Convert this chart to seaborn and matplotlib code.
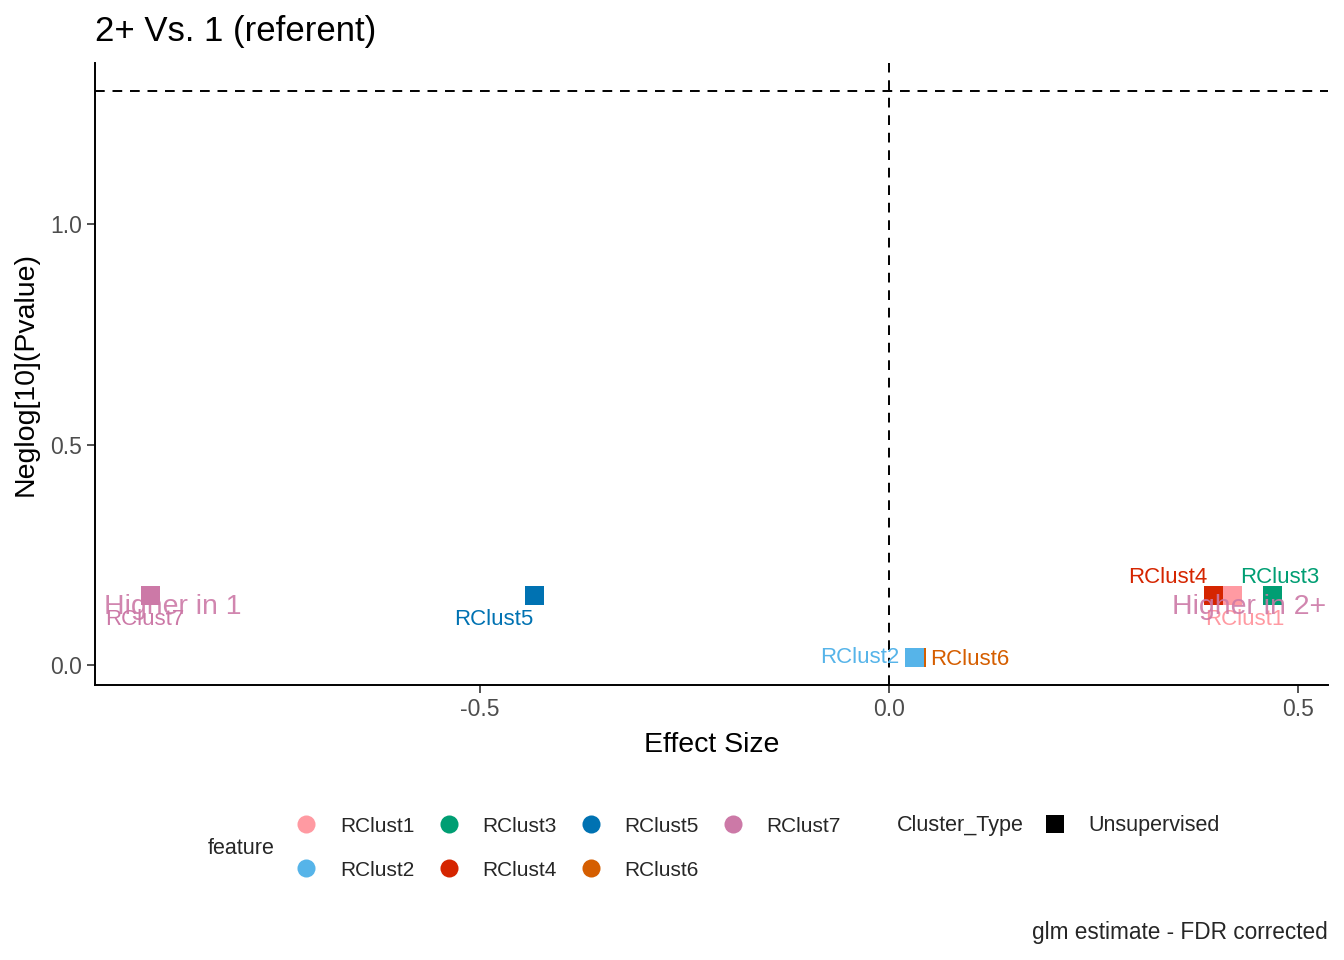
import matplotlib
matplotlib.use("Agg")
import matplotlib.pyplot as plt
from matplotlib.lines import Line2D
import seaborn as sns
import pandas as pd

# ---- data ----
features = ["RClust7", "RClust5", "RClust6", "RClust2", "RClust4", "RClust1", "RClust3"]
effect_size = [-0.903, -0.434, 0.034, 0.031, 0.397, 0.4205, 0.469]
neglog_p = [0.158, 0.158, 0.018, 0.018, 0.158, 0.158, 0.158]
legend_order = ["RClust1", "RClust2", "RClust3", "RClust4", "RClust5", "RClust6", "RClust7"]
colors = {
    "RClust1": "#FF9AA2",
    "RClust2": "#56B4E9",
    "RClust3": "#009E73",
    "RClust4": "#D52500",
    "RClust5": "#0072B2",
    "RClust6": "#D55E00",
    "RClust7": "#CC79A7",
}
# label offsets (points) for repelled labels
label_offsets = {
    "RClust7": (-4, -17),
    "RClust5": (-29, -17),
    "RClust2": (-39, 0),
    "RClust6": (38, -2),
    "RClust4": (-33, 13),
    "RClust1": (9, -17),
    "RClust3": (5, 13),
}
sig_line = 1.30103
annot_text = ["Higher in 1", "Higher in 2+"]
annot_x = [-0.876, 0.441]
annot_y = [0.131, 0.131]
xticks = [-0.5, 0.0, 0.5]
yticks = [0.0, 0.5, 1.0]

df = pd.DataFrame({"feature": features, "effect": effect_size, "neglog": neglog_p,
                   "Cluster_Type": ["Unsupervised"] * len(features)})

sns.set_style("white")
plt.rcParams["font.family"] = ["Liberation Sans", "DejaVu Sans"]

fig = plt.figure(figsize=(13.44, 9.6), dpi=100)
ax = fig.add_axes([95 / 1344, 1 - 685 / 960, (1328 - 95) / 1344, (685 - 63) / 960])

ax.axhline(sig_line, color="black", lw=1.4, ls=(0, (5, 4)), zorder=1)
ax.axvline(0, color="black", lw=1.4, ls=(0, (5, 4)), zorder=1)

sns.scatterplot(data=df, x="effect", y="neglog", hue="feature", palette=colors,
                marker="s", s=190, linewidth=0, legend=False, ax=ax, zorder=3)

for f, xv, yv in zip(features, effect_size, neglog_p):
    dx, dy = label_offsets[f]
    ax.annotate(f, (xv, yv), xytext=(dx, dy), textcoords="offset points",
                ha="center", va="center", fontsize=16, color=colors[f], zorder=4)

for t, xv, yv in zip(annot_text, annot_x, annot_y):
    ax.text(xv, yv, t, ha="center", va="center", fontsize=20.5,
            color=colors["RClust7"], alpha=0.9, zorder=5)

ax.set_xlim(-0.971, 0.537)
ax.set_ylim(-0.045, 1.365)
ax.set_xticks(xticks)
ax.set_yticks(yticks)
ax.set_xticklabels([f"{v:.1f}" for v in xticks])
ax.set_yticklabels([f"{v:.1f}" for v in yticks])
ax.tick_params(axis="both", which="major", labelsize=16.5, labelcolor="#4D4D4D",
               color="#333333", length=6, width=1.2, direction="out", bottom=True, left=True)
for s in ["top", "right"]:
    ax.spines[s].set_visible(False)
for s in ["left", "bottom"]:
    ax.spines[s].set_color("black")
    ax.spines[s].set_linewidth(1.4)
ax.grid(False)

ax.set_xlabel("Effect Size", fontsize=20.5, color="black", labelpad=8)
ax.set_ylabel("Neglog[10](Pvalue)", fontsize=20.5, color="black", labelpad=8)
ax.set_title("2+ Vs. 1 (referent)", fontsize=25, loc="left", pad=16, color="black")

# legends
handles = [Line2D([0], [0], marker="o", ls="", markersize=13, markerfacecolor=colors[f],
                  markeredgewidth=0) for f in legend_order]
fig.legend(handles, legend_order, ncol=4, loc="center left",
           bbox_to_anchor=(296 / 1344, 1 - 848 / 960), frameon=False,
           fontsize=15, handlelength=1.0, handletextpad=1.1,
           columnspacing=1.15, labelspacing=1.2, borderpad=0, borderaxespad=0)
fig.text(208 / 1344, 1 - 849 / 960, "feature", fontsize=15.5, ha="left", va="center")
fig.text(897 / 1344, 1 - 825 / 960, "Cluster_Type", fontsize=15.5, ha="left", va="center")
h2 = [Line2D([0], [0], marker="s", ls="", markersize=13.5, markerfacecolor="black",
             markeredgewidth=0)]
fig.legend(h2, ["Unsupervised"], loc="center left",
           bbox_to_anchor=(1044 / 1344, 1 - 826 / 960), frameon=False,
           fontsize=15.5, handlelength=1.0, handletextpad=1.05, borderpad=0, borderaxespad=0)

fig.text(1328 / 1344, 1 - 933 / 960, "glm estimate - FDR corrected", fontsize=16.3,
         ha="right", va="center")

fig.savefig("out.png", dpi=100)
